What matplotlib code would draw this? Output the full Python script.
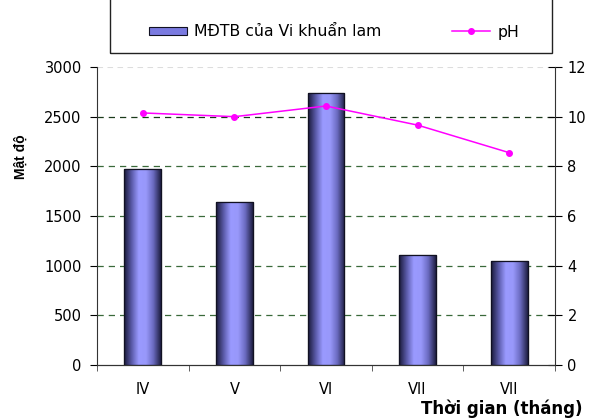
import numpy as np
import matplotlib
matplotlib.use("Agg")
import matplotlib.pyplot as plt
from matplotlib.colors import LinearSegmentedColormap
from matplotlib.patches import Rectangle
from matplotlib.lines import Line2D
from matplotlib.legend_handler import HandlerPatch

months = ["IV", "V", "VI", "VII", "VII"]
density = [1970, 1640, 2735, 1110, 1050]
ph = [10.15, 10.0, 10.43, 9.66, 8.55]

plt.rcParams['font.family'] = ['DejaVu Sans']

fig = plt.figure(figsize=(5.9, 4.18), dpi=100)
W, H = 590, 418
L, R, T, B = 97, 555, 67, 365
ax = fig.add_axes([L / W, 1 - B / H, (R - L) / W, (B - T) / H])
ax2 = ax.twinx()

cmap = LinearSegmentedColormap.from_list(
    "bar", ["#1a1a3a", "#5a5aa8", "#9a9aff", "#9898fa", "#6a6ac0", "#202045"])
grad = np.linspace(0, 1, 64).reshape(1, -1)

x = np.arange(len(months))
bars = ax.bar(x, density, width=0.4, color="#8888ee", edgecolor="#111122",
              linewidth=0.8, zorder=3)
for b in bars:
    im = ax.imshow(grad, aspect="auto", cmap=cmap,
                   extent=[b.get_x(), b.get_x() + b.get_width(), 0, b.get_height()],
                   zorder=3.5)
    im.set_clip_path(b)
    b2 = Rectangle((b.get_x(), 0), b.get_width(), b.get_height(), fill=False,
                   edgecolor="#111122", linewidth=0.9, zorder=4)
    ax.add_patch(b2)

ax.set_xlim(-0.5, len(months) - 0.5)
ax.set_ylim(0, 3000)
ax.set_yticks(range(0, 3001, 500))
for yv in range(500, 3000, 500):
    ax.axhline(yv, color="#3a6a3a" if yv != 2500 else "#1a3a1a",
               linestyle=(0, (5, 4)), linewidth=0.9, zorder=1)
ax.axhline(3000, color="#dddddd", linestyle=(0, (5, 4)), linewidth=0.8, zorder=1)

ax.set_xticks(x)
ax.set_xticklabels(months, fontsize=10.5)
ax.set_xticks(np.arange(-0.5, len(months)), minor=True)
ax.tick_params(axis="x", which="major", length=0, pad=12)
ax.tick_params(axis="x", which="minor", length=4, color="#444444")
ax.tick_params(axis="y", labelsize=10.5, length=5, direction="out", pad=6)

ax2.plot(x, ph, color="#ff00ff", marker="o", markersize=4, linewidth=1.1, zorder=5)
ax2.set_ylim(0, 12)
ax2.set_yticks(range(0, 13, 2))
ax2.tick_params(axis="y", labelsize=10.5, length=10, direction="inout", pad=4)
ax.set_zorder(1)
ax2.set_zorder(2)
ax2.patch.set_visible(False)

for a in (ax, ax2):
    a.spines["top"].set_visible(False)
    a.spines["left"].set_color("#333333")
    a.spines["right"].set_color("#333333")
    a.spines["bottom"].set_color("#333333")
ax2.spines["left"].set_visible(False)
ax.spines["right"].set_visible(False)

fig.text(21 / W, 1 - 157 / H, "Mật độ", rotation=90, fontsize=10,
         fontweight="bold", ha="center", va="center",
         family=["Liberation Sans", "DejaVu Sans"])
fig.text(502 / W, 1 - 409 / H, "Thời gian (tháng)", fontsize=12,
         fontweight="bold", ha="center", va="center")

# legend box
fig.patches.append(Rectangle((110 / W, 1 - 53 / H), (552 - 110) / W, 60 / H,
                             transform=fig.transFigure, fill=False,
                             edgecolor="#222222", linewidth=1.0))


class GradHandler(HandlerPatch):
    def create_artists(self, legend, orig_handle, xdescent, ydescent,
                       width, height, fontsize, trans):
        r = Rectangle((-xdescent, -ydescent + height * 0.15), width, height * 0.7,
                      facecolor="#7a7ae0", edgecolor="#111122", linewidth=0.8,
                      transform=trans)
        return [r]


h1 = Rectangle((0, 0), 1, 1, facecolor="#8888ee")
h2 = Line2D([], [], color="#ff00ff", marker="o", markersize=4, linewidth=1.1)
fig.legend([h1, h2], ["MĐTB của Vi khuẩn lam", "pH"],
           handler_map={Rectangle: GradHandler()},
           loc="center", bbox_to_anchor=(334 / W, 1 - 32 / H), ncol=2,
           frameon=False, fontsize=11.3, columnspacing=4.5, handlelength=2.42,
           handletextpad=0.45)

fig.savefig("out.png", dpi=100)
